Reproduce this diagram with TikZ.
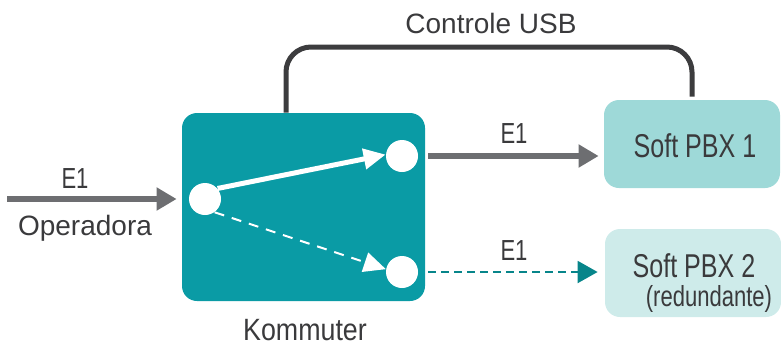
\documentclass[tikz,border=0pt]{standalone}
\usepackage{fontspec}
\setmainfont{Liberation Sans}
\newfontfamily\narrowfont[FakeStretch=0.76]{Liberation Sans}
\newfontfamily\semifont[FakeStretch=0.87]{Liberation Sans}
\usepackage{tikz}
\usetikzlibrary{positioning, arrows.meta}

\definecolor{komfill}{HTML}{0A9BA5}
\definecolor{pbxone}{HTML}{9ED9D8}
\definecolor{pbxtwo}{HTML}{CEEBEA}
\definecolor{linegray}{HTML}{6D6E71}
\definecolor{usbgray}{HTML}{3C3C3E}
\definecolor{dashteal}{HTML}{07858A}
\definecolor{txt}{HTML}{3A3A3C}

\begin{document}
\begin{tikzpicture}[x=0.5pt,y=-0.5pt,
        box/.style={rounded corners=7.5pt, inner sep=0pt},
        port/.style={circle, fill=white, minimum size=16pt, inner sep=0pt},
        lbl/.style={text=txt, inner sep=0pt, anchor=base},
        gray arrow/.style={draw=linegray, line width=3pt, -{Triangle[length=10pt,width=11pt]}},
        usb/.style={draw=usbgray, line width=2.5pt, rounded corners=12.5pt}]
        \useasboundingbox (0,0) rectangle (781,349);
        % Boxes
        \node[box, fill=komfill, minimum width=121.5pt, minimum height=94pt] (kom) at (303.5,207) {};
        \node[box, fill=pbxone, minimum width=88pt, minimum height=44pt] (pbx1) at (692,144) {};
        \node[box, fill=pbxtwo, minimum width=88pt, minimum height=44pt] (pbx2) at (693,273) {};
        % Switch ports
        \node[port] (inport) at (205,199) {};
        \node[port] (outa) at (402,156) {};
        \node[port] (outb) at (402,272) {};
        \coordinate (opstart) at (7,199);
        \coordinate (usbtop) at (490,47);
        % Switch paths
        \draw[white, line width=2.5pt, -{Triangle[length=11pt,width=10pt]}] (inport.40) -- (outa.175);
        \draw[white, line width=1pt, dash pattern=on 5pt off 4pt, -{Triangle[length=11pt,width=10pt]}] (inport.-54) -- (outb.170);
        % E1 links
        \draw[gray arrow] (opstart) -- ([xshift=-2.5pt]kom.west |- inport);
        \draw[gray arrow] ([xshift=1.5pt]kom.east |- outa) -- ([xshift=-2.5pt]pbx1.west |- outa);
        \draw[dashteal, line width=1pt, dash pattern=on 4pt off 2.5pt, -{Triangle[length=10pt,width=11pt]}] ([xshift=1.5pt]kom.east |- outb) -- ([xshift=-3.5pt]pbx2.west |- outb);
        % USB control
        \draw[usb] ([xshift=-8.75pt]kom.north) |- (usbtop) -| ([yshift=1.5pt]pbx1.north);
        % Labels
        \node[lbl] at (491,33) {\fontsize{14}{16}\selectfont Controle USB};
        \node[lbl] at (75,188) {\narrowfont\fontsize{14.5}{16}\selectfont E1};
        \node[lbl] at (85,235) {\fontsize{14}{16}\selectfont Operadora};
        \node[lbl] at (514,143) {\narrowfont\fontsize{14.5}{16}\selectfont E1};
        \node[lbl] at (514,260) {\narrowfont\fontsize{14.5}{16}\selectfont E1};
        \node[lbl] at (305,340) {\semifont\fontsize{15.4}{17}\selectfont Kommuter};
        \node[lbl] at (695,157) {\narrowfont\fontsize{16.5}{18}\selectfont Soft PBX 1};
        \node[lbl] at (694,277) {\narrowfont\fontsize{16.5}{18}\selectfont Soft PBX 2};
        \node[lbl] at (709,306) {\narrowfont\fontsize{14.5}{16}\selectfont (redundante)};
    \end{tikzpicture}
\end{document}
